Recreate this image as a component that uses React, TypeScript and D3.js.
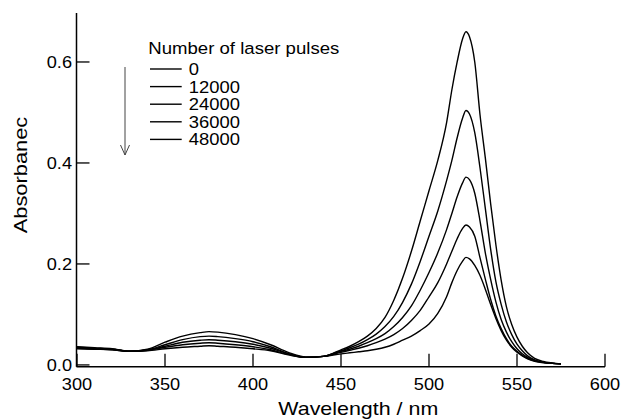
import React from "react";
import * as d3 from "d3";

const wavelengths = [300, 310, 320, 330, 340, 350, 360, 370, 375, 380, 390, 400, 410, 420, 430, 440, 450,
  455, 460, 465, 470, 475, 480, 485, 490, 495, 500,
  505, 510, 513, 516, 519, 521,
  523, 526, 529, 532, 535, 538, 541, 544, 547, 550,
  553, 556, 560, 565, 570, 575];

const pulses0 = [0.036, 0.034, 0.032, 0.027, 0.031, 0.045, 0.057, 0.064, 0.066, 0.065, 0.060, 0.052, 0.040, 0.025, 0.016, 0.017, 0.030,
  0.037, 0.046, 0.057, 0.072, 0.094, 0.128, 0.172, 0.225, 0.285, 0.345,
  0.405, 0.480, 0.545, 0.600, 0.645, 0.660,
  0.650, 0.600, 0.495, 0.410, 0.320, 0.238, 0.168, 0.115, 0.080, 0.055,
  0.037, 0.024, 0.013, 0.007, 0.004, 0.002];

const pulses12000 = [0.035, 0.033, 0.031, 0.027, 0.030, 0.040, 0.050, 0.056, 0.057, 0.056, 0.052, 0.046, 0.036, 0.023, 0.015, 0.017, 0.028,
  0.034, 0.041, 0.050, 0.061, 0.076, 0.096, 0.124, 0.160, 0.205, 0.255,
  0.305, 0.365, 0.405, 0.450, 0.488, 0.504,
  0.497, 0.460, 0.390, 0.310, 0.230, 0.165, 0.120, 0.085, 0.060, 0.041,
  0.028, 0.018, 0.010, 0.005, 0.003, 0.002];

const pulses24000 = [0.034, 0.032, 0.031, 0.027, 0.029, 0.037, 0.045, 0.049, 0.050, 0.049, 0.046, 0.041, 0.033, 0.022, 0.015, 0.017, 0.027,
  0.031, 0.037, 0.044, 0.052, 0.062, 0.076, 0.094, 0.117, 0.148, 0.183,
  0.222, 0.268, 0.300, 0.333, 0.360, 0.372,
  0.367, 0.340, 0.285, 0.222, 0.170, 0.125, 0.090, 0.065, 0.046, 0.032,
  0.022, 0.015, 0.009, 0.005, 0.003, 0.002];

const pulses36000 = [0.033, 0.032, 0.030, 0.027, 0.029, 0.035, 0.040, 0.043, 0.044, 0.043, 0.040, 0.036, 0.030, 0.021, 0.015, 0.017, 0.025,
  0.029, 0.033, 0.038, 0.044, 0.051, 0.060, 0.072, 0.088, 0.108, 0.135,
  0.163, 0.200, 0.225, 0.250, 0.270, 0.277,
  0.273, 0.255, 0.212, 0.170, 0.130, 0.097, 0.072, 0.052, 0.037, 0.027,
  0.019, 0.013, 0.008, 0.005, 0.003, 0.002];

const pulses48000 = [0.032, 0.031, 0.030, 0.027, 0.028, 0.032, 0.035, 0.037, 0.038, 0.037, 0.035, 0.032, 0.028, 0.020, 0.015, 0.017, 0.022,
  0.024, 0.026, 0.028, 0.031, 0.035, 0.041, 0.049, 0.057, 0.068, 0.081,
  0.102, 0.135, 0.163, 0.187, 0.205, 0.213,
  0.210, 0.197, 0.177, 0.150, 0.120, 0.092, 0.068, 0.049, 0.035, 0.025,
  0.018, 0.012, 0.007, 0.004, 0.003, 0.002];

const seriesLabels = ["0", "12000", "24000", "36000", "48000"];
const seriesValues = [pulses0, pulses12000, pulses24000, pulses36000, pulses48000];

const xTicks = [300, 350, 400, 450, 500, 550, 600];
const yTicks = [0.0, 0.2, 0.4, 0.6];

const legendTitle = "Number of laser pulses";
const xTitle = "Wavelength / nm";
const yTitle = "Absorbanec";

const FONT = "'Liberation Sans', Arial, Helvetica, sans-serif";

function SText(props: {
  x: number; y: number; fs: number; sx?: number; anchor?: string; rotate?: number;
  children: React.ReactNode; textLength?: number;
}) {
  const { x, y, fs, sx = 1, anchor = "start", rotate = 0, children, textLength } = props;
  return (
    <text
      transform={`translate(${x},${y}) rotate(${rotate}) scale(${sx},1)`}
      fontFamily={FONT}
      fontSize={fs}
      textAnchor={anchor}
      fill="#000"
      textLength={textLength}
      lengthAdjust={textLength ? "spacingAndGlyphs" : undefined}
    >
      {children}
    </text>
  );
}

export default function App() {
  const W = 626, H = 420;
  const x = d3.scaleLinear().domain([300, 600]).range([77, 605]);
  const y = d3.scaleLinear().domain([-0.0035, 0.697]).range([366.7, 13]);

  const line = d3
    .line<number>()
    .x((_, i) => x(wavelengths[i]))
    .y((d) => y(d))
    .curve(d3.curveMonotoneX);

  const axisY = y(-0.0035);
  const axisX = x(300) - 0.5;
  const tickLen = 13;

  const legendX = 148.3;
  const legendLineY0 = 69;
  const legendStep = 17.6;

  return (
    <svg width={W} height={H} style={{ position: "absolute", left: 0, top: 0, background: "#fff" }}>
      <rect width={W} height={H} fill="#fff" />
      {seriesValues.map((vals, i) => (
        <path key={i} d={line(vals) || ""} fill="none" stroke="#000" strokeWidth={1.4} strokeLinejoin="round" />
      ))}

      <line x1={axisX} x2={x(600)} y1={axisY} y2={axisY} stroke="#000" strokeWidth={1.5} />
      <line x1={axisX} x2={axisX} y1={axisY} y2={y(0.697)} stroke="#000" strokeWidth={1.5} />
      {xTicks.map((t) => (
        <g key={t}>
          <line x1={x(t)} x2={x(t)} y1={axisY} y2={axisY - tickLen} stroke="#000" strokeWidth={1.3} />
          <SText x={x(t)} y={390} fs={17} sx={1.07} anchor="middle">{String(t)}</SText>
        </g>
      ))}
      {yTicks.map((t) => (
        <g key={t}>
          <line x1={axisX} x2={axisX + tickLen} y1={y(t)} y2={y(t)} stroke="#000" strokeWidth={1.3} />
          <SText x={72} y={y(t) + 6.5} fs={17} sx={1.07} anchor="end">{t.toFixed(1)}</SText>
        </g>
      ))}

      <SText x={278.3} y={415} fs={18.5} textLength={160}>{xTitle}</SText>
      <SText x={27.3} y={233.3} fs={17.5} rotate={-90} textLength={116.6}>{yTitle}</SText>

      <SText x={legendX} y={54} fs={16.3} textLength={191}>{legendTitle}</SText>
      {seriesLabels.map((lab, i) => {
        const ly = legendLineY0 + i * legendStep;
        return (
          <g key={lab}>
            <line x1={150} x2={181.7} y1={ly} y2={ly} stroke="#000" strokeWidth={1.4} />
            <SText x={188.7} y={ly + 6} fs={16.3} sx={1.13}>{lab}</SText>
          </g>
        );
      })}

      <line x1={125} x2={125} y1={67} y2={155} stroke="#444" strokeWidth={1} />
      <polyline points="120.5,145 125,155 129.5,145" fill="none" stroke="#444" strokeWidth={1} />
    </svg>
  );
}
